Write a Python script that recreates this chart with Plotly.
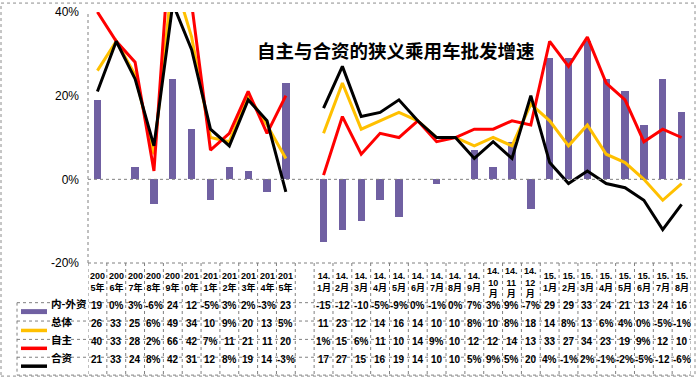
import plotly.graph_objects as go

categories = ["2005年", "2006年", "2007年", "2008年", "2009年", "2010年", "2011年", "2012年",
              "2013年", "2014年", "2015年", "",
              "14.1月", "14.2月", "14.3月", "14.4月", "14.5月", "14.6月", "14.7月", "14.8月",
              "14.9月", "14.10月", "14.11月", "14.12月",
              "15.1月", "15.2月", "15.3月", "15.4月", "15.5月", "15.6月", "15.7月", "15.8月"]

neiwai = [19, 0, 3, -6, 24, 12, -5, 3, 2, -3, 23, None,
          -15, -12, -10, -5, -9, 0, -1, 0, 7, 3, 9, -7,
          29, 29, 33, 24, 21, 13, 24, 16]
zongti = [26, 33, 25, 6, 49, 34, 10, 9, 20, 13, 5, None,
          11, 23, 12, 14, 16, 14, 10, 10, 8, 10, 8, 18,
          14, 8, 13, 6, 4, 0, -5, -1]
zizhu = [40, 33, 28, 2, 66, 42, 7, 11, 21, 11, 20, None,
         1, 15, 6, 11, 10, 14, 9, 10, 12, 12, 14, 13,
         33, 27, 34, 23, 19, 9, 12, 10]
hezi = [21, 33, 24, 8, 42, 31, 12, 8, 19, 14, -3, None,
        17, 27, 15, 16, 19, 14, 10, 10, 5, 9, 5, 20,
        4, -1, 2, -1, -2, -5, -12, -6]

series_names = ["内-外资", "总体", "自主", "合资"]
series_colors = ["#7060a2", "#FFC000", "#FF0000", "#000000"]
title_text = "自主与合资的狭义乘用车批发增速"
y_ticks = [-20, 0, 20, 40]

W, H = 696, 378
L, R, T, B = 88, 5, 10, 115
pw, ph = W - L - R, H - T - B
x_idx = list(range(len(categories)))


def py(p):  # pixel y -> paper y
    return (H - B - p) / ph


def px(p):  # pixel x -> paper x
    return (p - L) / pw


def fmt(v):
    if v is None:
        return ""
    return f"{v}%" if abs(v) < 10 else str(v)


def wrap(c):
    if c == "":
        return ""
    if c.startswith("20"):
        return c[:3] + "<br>" + c[3:]
    pre, rest = c.split(".")
    if len(rest) > 2:
        return pre + ".<br>" + rest[:-1] + "<br>" + rest[-1]
    return pre + ".<br>" + rest


fig = go.Figure()
fig.add_trace(go.Bar(x=x_idx, y=neiwai, marker=dict(color=series_colors[0], line=dict(width=0)),
                     width=0.39, name=series_names[0]))
for vals, nm, col in [(zongti, series_names[1], series_colors[1]),
                      (zizhu, series_names[2], series_colors[2]),
                      (hezi, series_names[3], series_colors[3])]:
    fig.add_trace(go.Scatter(x=x_idx, y=vals, mode="lines", name=nm,
                             line=dict(color=col, width=3), connectgaps=False))

shapes = []
grid = dict(color="#808080", width=1, dash="dot")
# y axis line and zero line
shapes.append(dict(type="line", xref="paper", yref="paper", x0=0, x1=0, y0=0, y1=1, line=grid))
shapes.append(dict(type="line", xref="paper", yref="y", x0=0, x1=1, y0=0, y1=0, line=grid))
# table vertical lines
y_bot = py(376)
for i in range(len(categories) + 1):
    shapes.append(dict(type="line", xref="x", yref="paper", x0=i - 0.5, x1=i - 0.5,
                       y0=0, y1=y_bot, line=grid))
# table horizontal lines
shapes.append(dict(type="line", xref="paper", yref="paper", x0=0, x1=1, y0=0, y1=0, line=grid))
for p in [303, 321.5, 340, 358, 376]:
    shapes.append(dict(type="line", xref="paper", yref="paper", x0=px(17), x1=1,
                       y0=py(p), y1=py(p), line=grid))
shapes.append(dict(type="line", xref="paper", yref="paper", x0=px(17), x1=px(17),
                   y0=py(303), y1=y_bot, line=grid))
# outer border
shapes.append(dict(type="rect", xref="paper", yref="paper", x0=px(1), x1=px(695),
                   y0=py(377), y1=py(1), line=dict(color="#8c8c8c", width=1, dash="dot")))

row_centers = [312, 331, 349, 367]
# legend swatches
shapes.append(dict(type="rect", xref="paper", yref="paper", x0=px(21), x1=px(47),
                   y0=py(row_centers[0] + 2.5), y1=py(row_centers[0] - 2.5),
                   fillcolor=series_colors[0], line=dict(width=0)))
for k in range(1, 4):
    shapes.append(dict(type="line", xref="paper", yref="paper", x0=px(21), x1=px(47),
                       y0=py(row_centers[k]), y1=py(row_centers[k]),
                       line=dict(color=series_colors[k], width=3.5)))

annotations = []
annotations.append(dict(text="<b>" + title_text + "</b>", xref="paper", yref="paper", x=px(396), y=py(33),
                        showarrow=False, font=dict(family="Noto Sans CJK SC", size=18.5, color="#000")))
tf = dict(family="Liberation Sans, Noto Sans CJK SC", size=10, color="#000")
hf = dict(family="Liberation Sans, Noto Sans CJK SC", size=9, color="#000")
for i, c in enumerate(categories):
    if c:
        annotations.append(dict(text="<b>" + wrap(c) + "</b>", xref="x", yref="paper", x=i, y=py(282.5),
                                showarrow=False, font=hf, align="center", borderpad=0,
                                yanchor="middle"))
for k, vals in enumerate([neiwai, zongti, zizhu, hezi]):
    for i, v in enumerate(vals):
        s = fmt(v)
        if s:
            annotations.append(dict(text="<b>" + s + "</b>", xref="x", yref="paper", x=i,
                                    y=py(row_centers[k]), showarrow=False, font=tf, borderpad=0))
    annotations.append(dict(text="<b>" + series_names[k] + "</b>", xref="paper", yref="paper",
                            x=px(50), y=py(row_centers[k]), xanchor="left", showarrow=False,
                            borderpad=0,
                            font=dict(family="Noto Sans CJK SC", size=10.5, color="#000")))

fig.update_layout(
    width=W, height=H,
    margin=dict(l=L, r=R, t=T, b=B),
    paper_bgcolor="white", plot_bgcolor="white",
    showlegend=False,
    bargap=0,
    xaxis=dict(range=[-0.5, len(categories) - 0.5], showticklabels=False, showgrid=False,
               zeroline=False, showline=False, ticks=""),
    yaxis=dict(range=[-20, 40], tickvals=y_ticks, ticktext=[f"{v}%" for v in y_ticks],
               showgrid=False, zeroline=False, showline=False, ticks="",
               ticklabelstandoff=8,
               tickfont=dict(family="Liberation Sans", size=12, color="#000")),
    shapes=shapes, annotations=annotations,
)
fig.write_html("out.html", config={"displayModeBar": False},
               post_script="document.body.style.margin='0';document.body.style.padding='0';")
